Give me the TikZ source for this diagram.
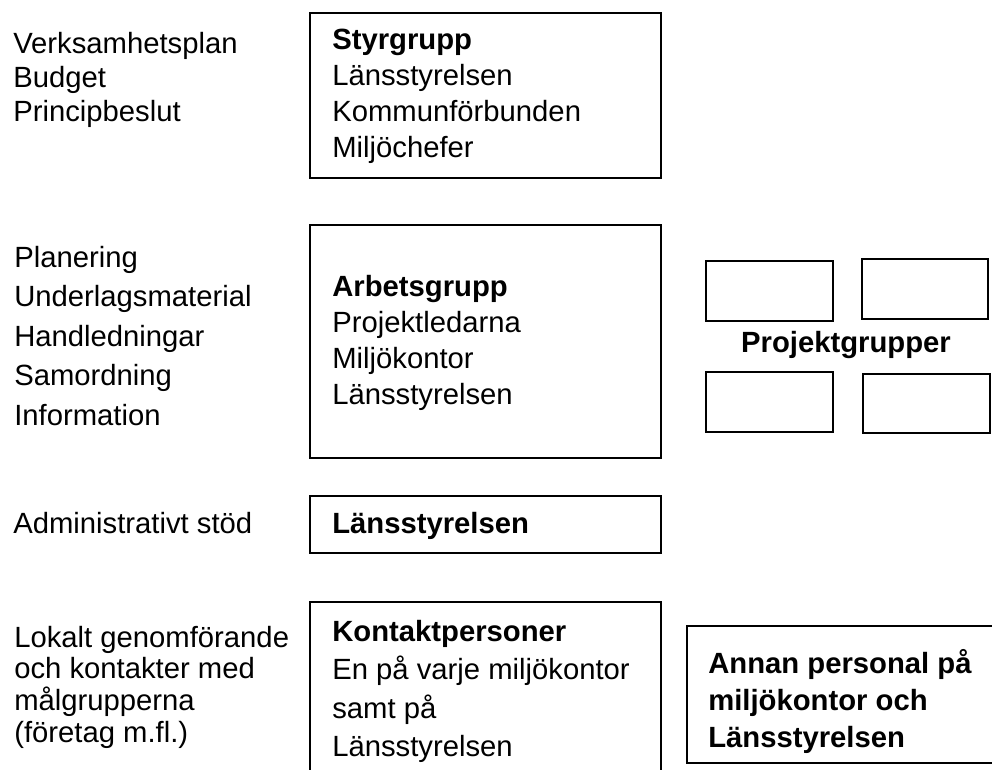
\documentclass[tikz,border=0pt]{standalone}
\usepackage{fontspec}
\setmainfont{Liberation Sans}
\usepackage{tikz}
\newcommand{\orgfont}{\fontsize{20.8}{24}\selectfont}

\begin{document}
\begin{tikzpicture}[x=0.025cm,y=-0.025cm,
		box/.style={line width=1.8pt},
		txt/.style={anchor=base west,inner sep=0pt,font=\orgfont},
		bold/.style={anchor=base west,inner sep=0pt,font=\orgfont\bfseries}]
		\useasboundingbox (0,0) rectangle (992,769);
		\clip (0,0) rectangle (992,769);
		% boxes in the middle
		\draw[box] (310,13) rectangle (661,178);
		\draw[box] (310,225) rectangle (661,458);
		\draw[box] (310,496) rectangle (661,553);
		\draw[box] (310,780) -- (310,602) -- (661,602) -- (661,780);
		% boxes to the right
		\draw[box] (706,261) rectangle (833,321);
		\draw[box] (862,259) rectangle (988,319);
		\draw[box] (706,372) rectangle (833,432);
		\draw[box] (863,374) rectangle (990,433);
		\draw[box] (687,626) rectangle (1010,763);
		% left column
		\foreach \t [count=\i from 0] in {Verksamhetsplan,Budget,Principbeslut}{
			\node[txt] (verk\i) at (13,53+34*\i) {\t};
		}
		\foreach \t [count=\i from 0] in {Planering,Underlagsmaterial,Handledningar,Samordning,Information}{
			\node[txt] (plan\i) at (14,267+39.5*\i) {\t};
		}
		\node[txt] (adm) at (13,533) {Administrativt stöd};
		\foreach \t [count=\i from 0] in {Lokalt genomförande,och kontakter med,målgrupperna,{(företag m.fl.)}}{
			\node[txt] (lokal\i) at (14,647+31.7*\i) {\t};
		}
		% texts in the boxes
		\node[bold] (styr) at (332,49) {Styrgrupp};
		\foreach \t [count=\i] in {Länsstyrelsen,Kommunförbunden,Miljöchefer}{
			\node[txt] (styr\i) at (332,49+36.3*\i) {\t};
		}
		\node[bold] (arb) at (332,296) {Arbetsgrupp};
		\foreach \t [count=\i] in {Projektledarna,Miljökontor,Länsstyrelsen}{
			\node[txt] (arb\i) at (332,296+36.3*\i) {\t};
		}
		\node[bold] (lst) at (332,533) {Länsstyrelsen};
		\node[bold] (kont) at (332,641) {Kontaktpersoner};
		\foreach \t [count=\i] in {En på varje miljökontor,samt på,Länsstyrelsen}{
			\node[txt] (kont\i) at (332,641+38.5*\i) {\t};
		}
		\node[bold,anchor=base] (proj) at (846,352) {Projektgrupper};
		\foreach \t [count=\i from 0] in {Annan personal på,miljökontor och,Länsstyrelsen}{
			\node[bold] (annan\i) at (708,673+37*\i) {\t};
		}
\end{tikzpicture}
\end{document}
